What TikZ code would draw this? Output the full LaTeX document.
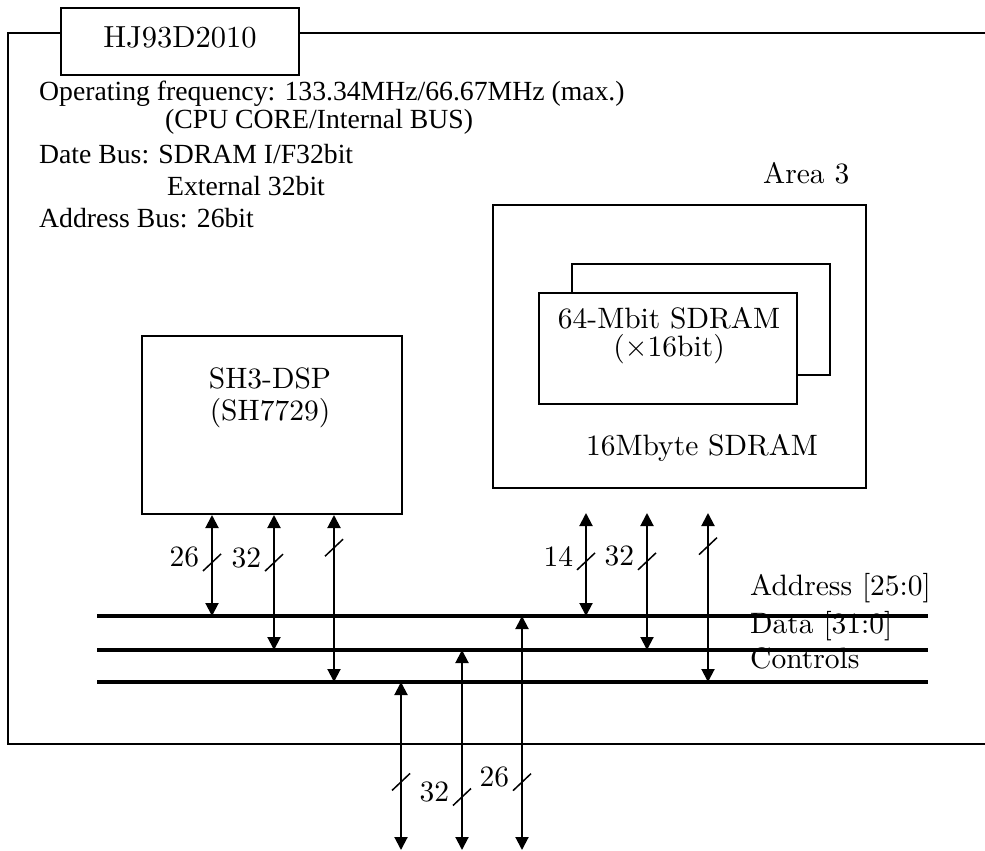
\documentclass[tikz,border=0pt]{standalone}
\usepackage{fontspec}
\usepackage{tikz}
\usetikzlibrary{arrows.meta}
\newfontfamily\infofont{Liberation Serif}
\newfontfamily\labelfont{lmroman10-regular}[Extension=.otf]
\newcommand{\labelsize}{\labelfont\fontsize{29.5}{32}\selectfont}

\tikzset{
  box/.style={draw, line width=2pt, inner sep=0pt},
  lbl/.style={inner sep=0pt, font=\labelsize},
  info/.style={inner sep=0pt, anchor=base west, font=\infofont\fontsize{27.7}{30}\selectfont},
  busline/.style={line width=4pt},
  busarrow/.style={line width=2pt, {Triangle[length=13pt,width=13pt]}-{Triangle[length=13pt,width=13pt]}},
  busslash/.style={inner sep=0pt, minimum width=16pt, minimum height=15pt},
  slashline/.style={line width=1.5pt},
}

\begin{document}
\begin{tikzpicture}[x=1pt, y=-1pt, label distance=3pt]
        \useasboundingbox (0,0) rectangle (985,851);
        % board outline with its title
        \node[box, minimum width=238pt, minimum height=67pt, text height=21pt, text depth=9pt, font=\labelfont\fontsize{30.5}{32}\selectfont] (title) at (180,41.5) {HJ93D2010};
        \coordinate (frameTL) at (8,33);
        \coordinate (frameBL) at (8,744);
        \draw[line width=2pt] (title.west |- frameTL) -- (frameTL) -- (frameBL) -- (985,744);
        \draw[line width=2pt] (title.east |- frameTL) -- (985,33);

        % spec lines
        \node[info] (freq) at (39,100) {Operating frequency: 133.34MHz/66.67MHz (max.)};
        \node[info] (freqsub) at (165,128) {(CPU CORE/Internal BUS)};
        \node[info] (databus) at (39,163) {Date Bus: SDRAM I/F32bit};
        \node[info] (datasub) at (167,195) {External 32bit};
        \node[info] (addrbus) at (39,227) {Address Bus: 26bit};

        % CPU
        \node[box, minimum width=260pt, minimum height=178pt] (cpu) at (272,425) {};
        \node[lbl, anchor=base] (cpuname) at (270,388) {SH3-DSP};
        \node[lbl, anchor=base] (cpupart) at (270,420) {(SH7729)};

        % SDRAM in area 3
        \node[lbl, anchor=base west] (area) at (763,183) {Area 3};
        \node[box, minimum width=373pt, minimum height=283pt] (mem) at (679.5,346.5) {};
        \node[box, minimum width=258pt, minimum height=111pt] (chipB) at (701,319.5) {};
        \node[box, fill=white, minimum width=258pt, minimum height=111pt] (chipA) at (668,348.5) {};
        \node[lbl, anchor=base] (chipname) at (669,328) {64-Mbit SDRAM};
        \node[lbl, anchor=base] (chipwidth) at (669,356) {(×16bit)};
        \node[lbl, anchor=base] (memsize) at (702,455) {16Mbyte SDRAM};

        % buses
        \coordinate (addrL) at (97,616);
        \coordinate (addrR) at (928,616);
        \coordinate (dataL) at (97,650);
        \coordinate (dataR) at (928,650);
        \coordinate (ctrlL) at (97,682);
        \coordinate (ctrlR) at (928,682);
        \draw[busline] (addrL) -- (addrR);
        \draw[busline] (dataL) -- (dataR);
        \draw[busline] (ctrlL) -- (ctrlR);
        \node[lbl, anchor=base west] (addrlbl) at (750,595) {Address [25:0]};
        \node[lbl, anchor=base west] (datalbl) at (750,633) {Data [31:0]};
        \node[lbl, anchor=base west] (ctrllbl) at (750,668) {Controls};

        % CPU to bus
        \coordinate (cpuA) at ([xshift=-60pt]cpu.south);
        \coordinate (cpuD) at ([xshift=2pt]cpu.south);
        \coordinate (cpuC) at ([xshift=62pt]cpu.south);
        \draw[busarrow] (cpuA) -- node[busslash, pos=.47, label={[lbl, yshift=5pt]left:26}] (cpuAs) {} (cpuA |- addrL);
        \draw[busarrow] (cpuD) -- node[busslash, pos=.353, label={[lbl, yshift=5pt]left:32}] (cpuDs) {} (cpuD |- dataL);
        \draw[busarrow] (cpuC) -- node[busslash, pos=.196] (cpuCs) {} (cpuC |- ctrlL);

        % SDRAM to bus
        \coordinate (memA) at (586,513);
        \coordinate (memD) at (647,513);
        \coordinate (memC) at (708,513);
        \draw[busarrow] (memA) -- node[busslash, pos=.47, label={[lbl, yshift=5pt]left:14}] (memAs) {} (memA |- addrL);
        \draw[busarrow] (memD) -- node[busslash, pos=.353, label={[lbl, yshift=5pt]left:32}] (memDs) {} (memD |- dataL);
        \draw[busarrow] (memC) -- node[busslash, pos=.196] (memCs) {} (memC |- ctrlL);

        % external connector
        \coordinate (extC) at (401,850);
        \coordinate (extD) at (462,850);
        \coordinate (extA) at (522,850);
        \draw[busarrow] (extC |- ctrlL) -- node[busslash, pos=.595] (extCs) {} (extC);
        \draw[busarrow] (extD |- dataL) -- node[busslash, pos=.735, label={[lbl, yshift=5pt]left:32}] (extDs) {} (extD);
        \draw[busarrow] (extA |- addrL) -- node[busslash, pos=.71, label={[lbl, yshift=5pt]left:26}] (extAs) {} (extA);

        % bus width marks
        \foreach \s in {cpuAs, cpuDs, cpuCs, memAs, memDs, memCs, extCs, extDs, extAs}
          \draw[slashline] (\s.south west) -- (\s.north east);
\end{tikzpicture}
\end{document}
